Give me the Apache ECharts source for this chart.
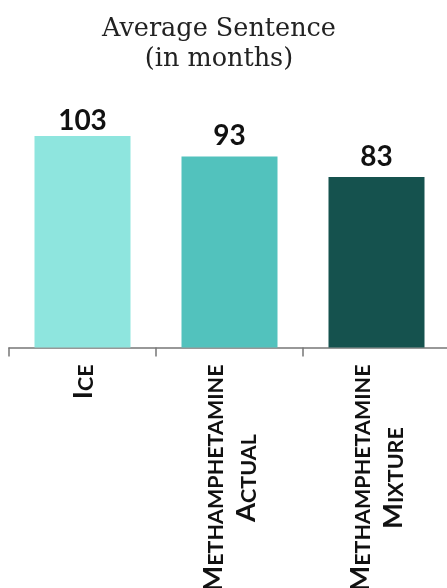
<!DOCTYPE html>
<html>
<head>
<meta charset="utf-8">
<script src="https://cdn.jsdelivr.net/npm/echarts@6/dist/echarts.min.js"></script>
<style>
  html, body { margin: 0; padding: 0; background: #ffffff; }
  #chart { width: 447px; height: 588px; }
</style>
</head>
<body>
<div id="chart"></div>
<script>
// Data
const categories = ['Ice', 'Methamphetamine\nActual', 'Methamphetamine\nMixture'];
const sentenceValues = [103, 93, 83];
const barColors = ['#8EE5DE', '#52C2BD', '#15524E'];
const labelGaps = [1, 6.5, 6.5];
const titleText = 'Average Sentence\n(in months)';

function smallCaps(label) {
  return label.split('\n').map(function (line) {
    return line.split(' ').map(function (word) {
      return '{b|' + word.charAt(0).toUpperCase() + '}{s|' + word.slice(1).toUpperCase() + '}';
    }).join('{s| }');
  }).join('\n');
}

const chart = echarts.init(document.getElementById('chart'), null, { renderer: 'canvas' });

chart.setOption({
  animation: false,
  backgroundColor: '#ffffff',
  title: {
    text: titleText,
    left: 219,
    top: 14,
    textAlign: 'center',
    padding: 0,
    textStyle: {
      fontFamily: 'DejaVu Serif',
      fontSize: 25.5,
      fontWeight: 'normal',
      lineHeight: 30,
      color: '#222222'
    }
  },
  grid: {
    left: 9,
    right: -3,
    top: 101,
    bottom: 240.5,
    containLabel: false,
    outerBoundsMode: 'none'
  },
  xAxis: {
    type: 'category',
    data: categories,
    axisLine: { show: true, lineStyle: { color: '#777777', width: 1.5 } },
    axisTick: { show: true, length: 9, lineStyle: { color: '#777777', width: 1.5 } },
    axisLabel: {
      rotate: 90,
      margin: 17,
      interval: 0,
      hideOverlap: false,
      padding: [0, 0, 4, 0],
      formatter: function (v) { return smallCaps(v); },
      rich: {
        b: { fontFamily: 'Lato', fontWeight: 'bold', fontSize: 27.5, lineHeight: 33, color: '#111111', align: 'center', verticalAlign: 'bottom' },
        s: { fontFamily: 'Lato', fontWeight: 'bold', fontSize: 21.5, lineHeight: 29, color: '#111111', align: 'center', verticalAlign: 'bottom' }
      }
    }
  },
  yAxis: {
    type: 'value',
    min: 0,
    max: 120,
    show: false,
    splitLine: { show: false }
  },
  series: [{
    type: 'bar',
    barWidth: 96,
    data: sentenceValues.map(function (v, i) {
      return { value: v, itemStyle: { color: barColors[i] }, label: { distance: labelGaps[i] } };
    }),
    label: {
      show: true,
      position: 'top',
      distance: 1,
      fontFamily: 'Lato',
      fontWeight: 'bold',
      fontSize: 28,
      color: '#111111'
    }
  }]
});
</script>
</body>
</html>
